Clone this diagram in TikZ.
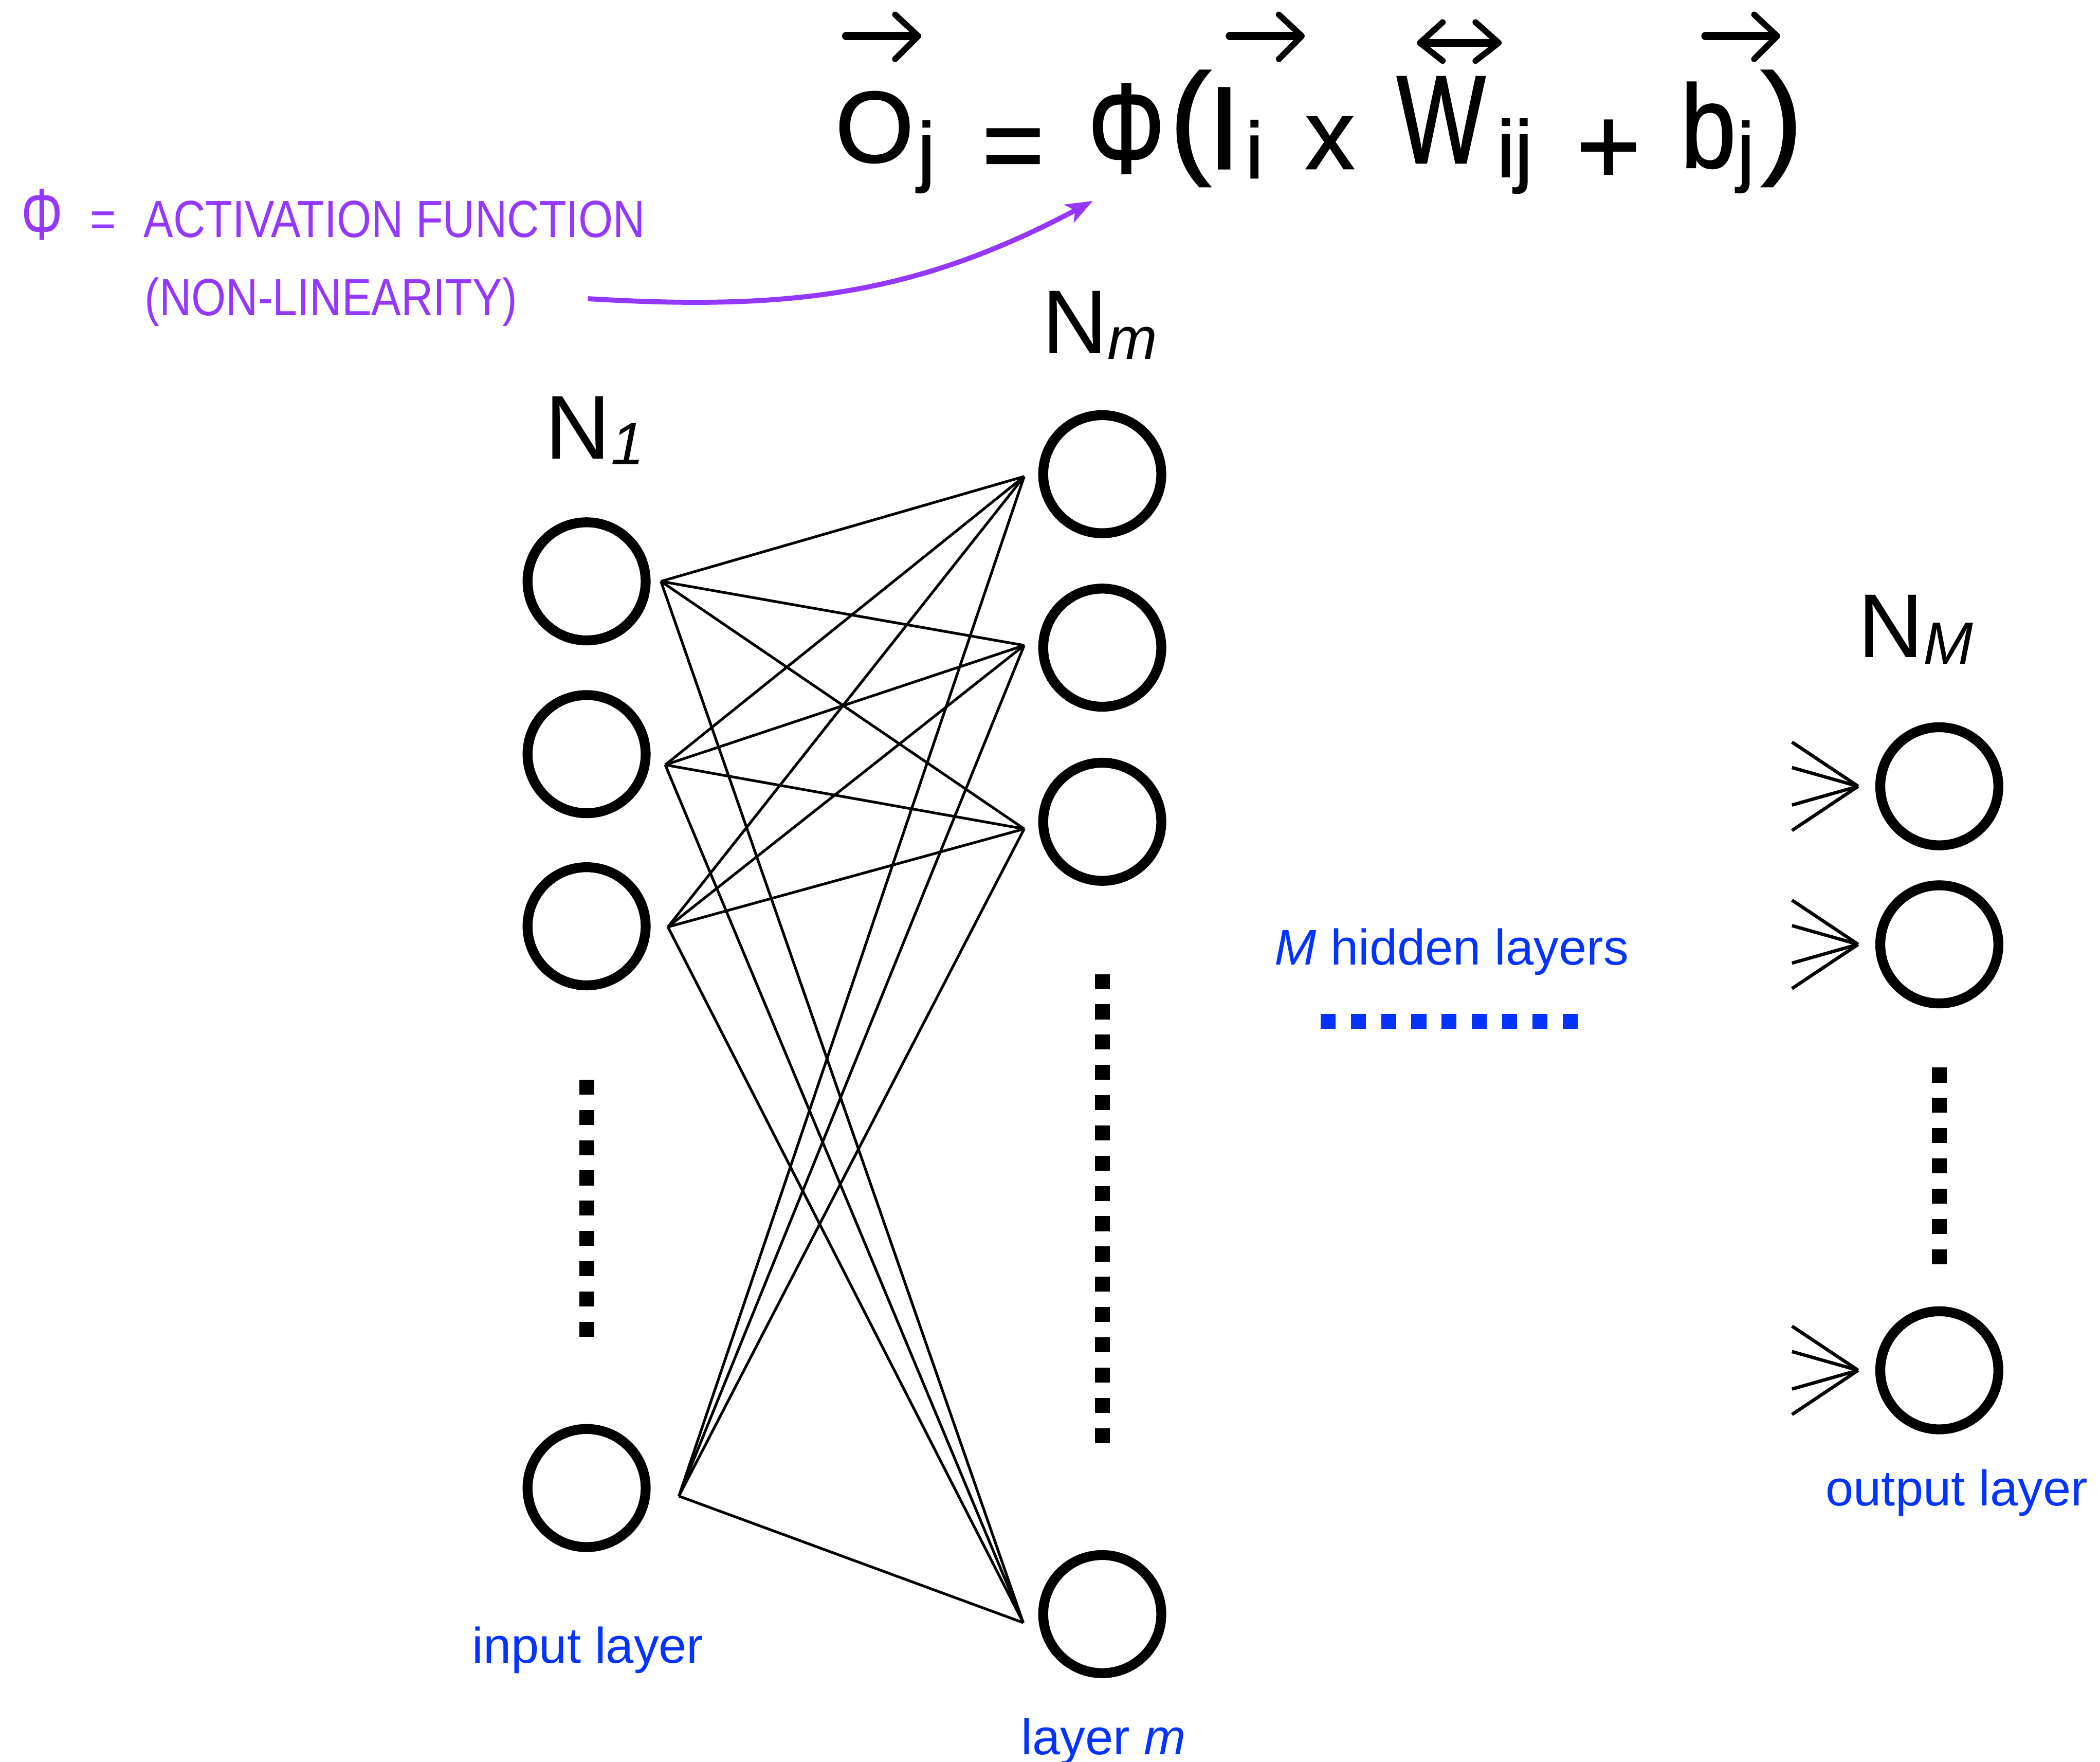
\documentclass[tikz,border=0pt]{standalone}
\usepackage{fontspec}
\usepackage{graphicx}
\setmainfont{Liberation Sans}
\newfontfamily\purplefont[FakeStretch=0.85]{Liberation Sans}
\newfontfamily\formfont[FakeBold=1.2]{Liberation Sans}
\usetikzlibrary{arrows.meta}
\definecolor{lblue}{RGB}{4,51,255}
\definecolor{lpurple}{RGB}{148,55,255}
\newcommand{\fs}[1]{\fontsize{#1}{#1}\selectfont}
\begin{document}
\begin{tikzpicture}[x=0.02cm,y=-0.02cm,
  neuron/.style={circle,draw,line width=0.148cm,minimum size=1.764cm,inner sep=0pt},
  conn/.style={line width=0.04cm},
  fan/.style={line width=0.05cm},
  dots/.style={line width=0.224cm,dash pattern=on 0.224cm off 0.228cm},
  lbl/.style={text=lblue,font=\fs{21.3},inner sep=0pt,anchor=base},
  nlbl/.style={inner sep=0pt,anchor=base west,font=\fs{38.5}},
  fm/.style={inner sep=0pt,anchor=base,font=\formfont\fs{#1}},
  vec/.style={line width=0.12cm,line cap=round},
  chev/.style={line width=0.09cm,line cap=round,line join=round},
  hand/.style={text=lpurple,inner sep=0pt,anchor=base west,font=\purplefont\fs{22.2}},
]
\useasboundingbox (0,0) rectangle (1568,1315.4);

% ---- neurons
\node[neuron] (i1) at (438,434) {};
\node[neuron] (i2) at (438,563) {};
\node[neuron] (i3) at (438,691.5) {};
\node[neuron] (i4) at (438,1110.9) {};
\node[neuron] (h1) at (823,354) {};
\node[neuron] (h2) at (823,483.5) {};
\node[neuron] (h3) at (823,613.5) {};
\node[neuron] (h4) at (823,1205) {};
\node[neuron] (o1) at (1448,587) {};
\node[neuron] (o2) at (1448,705) {};
\node[neuron] (o3) at (1448,1023) {};

% ---- connection end points
\coordinate (a1) at (493.5,434);
\coordinate (a2) at (496.7,571);
\coordinate (a3) at (498.7,692);
\coordinate (a4) at (506.9,1116.9);
\coordinate (b1) at (764.7,355.7);
\coordinate (b2) at (764.7,481.8);
\coordinate (b3) at (764.7,618.8);
\coordinate (b4) at (764,1211.4);
\foreach \s in {a1,a2,a3,a4}{
  \foreach \t in {b1,b2,b3,b4}{
    \draw[conn] (\s) -- (\t);
  }
}

% ---- incoming fans of the output layer
\foreach \k/\yy in {1/587,2/705,3/1023}{
  \coordinate (t\k) at (1387.4,\yy);
  \foreach \d [count=\c] in {-33,-14,14,33}{
    \coordinate (s\k\c) at (1338,{\yy+\d});
    \draw[fan] (s\k\c) -- (t\k);
  }
}

% ---- dotted continuation marks
\draw[dots] (438,806) -- (438,998);
\draw[dots] (823,727.2) -- (823,1077.4);
\draw[dots] (1448,797) -- (1448,944.4);
\draw[dots,lblue] (986,762.5) -- (1178,762.5);

% ---- layer titles
\node[nlbl] (n1) at (406.9,342.4) {N\raisebox{-2.6pt}{\fs{25.4}\itshape 1}};
\node[nlbl] (nm) at (777.7,264) {N\raisebox{-2.3pt}{\fs{25.4}\itshape m}};
\node[nlbl] (nM) at (1387.1,490.7) {N\raisebox{-2.9pt}{\fs{25.4}\itshape M}};

% ---- blue labels
\node[lbl] (inl) at (439,1241.7) {input layer};
\node[lbl] (lm) at (824,1310) {layer \textit{m}};
\node[lbl] (hid) at (1084,720.4) {\textit{M} hidden layers};
\node[lbl] (outl) at (1461,1124) {output layer};

% ---- purple note
\node[hand,anchor=base,font=\purplefont\fs{26}] (phi) at (31.5,179) {\scalebox{1}[1.2]{Φ}};
\node[hand,anchor=base] (eq) at (77,177) {=};
\node[hand] (act) at (107,177) {ACTIVATION FUNCTION};
\node[hand] (nonlin) at (107.7,235.4) {(NON-LINEARITY)};
\coordinate (cs) at (439,223);
\coordinate (ce) at (816,150);
\draw[lpurple,line width=0.075cm,-{Stealth[length=0.4cm,width=0.3cm,inset=0.1cm]}]
  (cs) .. controls (589,232) and (683.5,220.5) .. (ce);

% ---- formula
\node[fm=43] (fO) at (653,121) {O};
\node[fm=33] (fOj) at (691.7,132) {j};
\node[fm=45.5] (feq) at (756.5,135.4) {=};
\node[fm=45.5] (fphi) at (841,129) {\scalebox{0.9}[1.2]{Φ}};
\node[fm=53] (flp) at (888.7,120) {(};
\node[fm=50] (fI) at (914,126) {I};
\node[fm=34] (fIi) at (936.6,133) {i};
\node[fm=42] (fx) at (993,126) {x};
\node[fm=45.5] (fW) at (1076,121.6) {\scalebox{0.88}[1.17]{W}};
\node[fm=34] (fWij) at (1131,132) {ij};
\node[fm=47] (fplus) at (1201,137.3) {+};
\node[fm=50] (fb) at (1275.5,125) {\scalebox{0.85}[1]{b}};
\node[fm=33] (fbj) at (1303.5,132) {j};
\node[fm=53] (frp) at (1330.5,120) {)};

% vector arrows over the symbols
\draw[vec] (631.7,26.9) -- (683,26.9);
\draw[chev] (668.4,10.9) -- (685.6,26.9) -- (668.4,44.1);
\draw[vec] (918.2,26.9) -- (969,26.9);
\draw[chev] (954.9,10.9) -- (972,26.9) -- (954.9,44.1);
\draw[vec] (1063,32) -- (1116,32);
\draw[chev] (1077.2,16.6) -- (1060.2,32) -- (1077.2,45.4);
\draw[chev] (1101.7,16.6) -- (1119,32) -- (1101.7,45.4);
\draw[vec] (1273.3,26.9) -- (1324,26.9);
\draw[chev] (1309.8,10.9) -- (1327,26.9) -- (1309.8,44.1);
\end{tikzpicture}
\end{document}
